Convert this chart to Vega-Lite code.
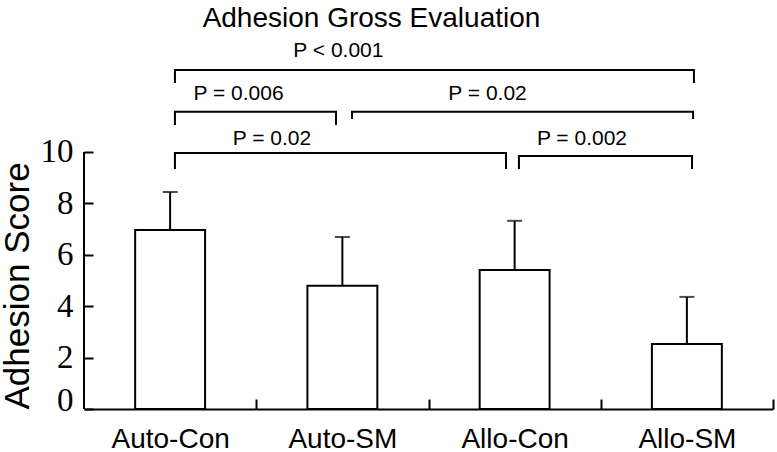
{
  "$schema": "https://vega.github.io/schema/vega-lite/v6.json",
  "width": 689,
  "height": 399,
  "autosize": {"type": "none"},
  "padding": {"left": 84, "top": 10, "right": 4, "bottom": 43},
  "background": "white",
  "title": {
    "text": "Adhesion Gross Evaluation",
    "font": "Liberation Sans",
    "fontSize": 28,
    "fontWeight": "normal",
    "color": "black",
    "anchor": "middle",
    "dx": -57,
    "baseline": "alphabetic",
    "offset": 0,
    "dy": 45
  },
  "config": {"view": {"stroke": null}},
  "datasets": {
    "bars": [
      {"group": "Auto-Con", "mean": 6.96, "upper": 8.44},
      {"group": "Auto-SM", "mean": 4.79, "upper": 6.69},
      {"group": "Allo-Con", "mean": 5.41, "upper": 7.32},
      {"group": "Allo-SM", "mean": 2.53, "upper": 4.36}
    ],
    "brackets": [
      {"id": "b1", "ord": 1, "x": 0.528, "y": 12.68},
      {"id": "b1", "ord": 2, "x": 0.528, "y": 13.19},
      {"id": "b1", "ord": 3, "x": 3.541, "y": 13.19},
      {"id": "b1", "ord": 4, "x": 3.541, "y": 12.68},
      {"id": "b2", "ord": 1, "x": 0.528, "y": 11.05},
      {"id": "b2", "ord": 2, "x": 0.528, "y": 11.56},
      {"id": "b2", "ord": 3, "x": 1.463, "y": 11.56},
      {"id": "b2", "ord": 4, "x": 1.463, "y": 11.05},
      {"id": "b3", "ord": 1, "x": 1.556, "y": 11.28},
      {"id": "b3", "ord": 2, "x": 1.556, "y": 11.56},
      {"id": "b3", "ord": 3, "x": 3.536, "y": 11.56},
      {"id": "b3", "ord": 4, "x": 3.536, "y": 11.28},
      {"id": "b4", "ord": 1, "x": 0.528, "y": 9.34},
      {"id": "b4", "ord": 2, "x": 0.528, "y": 9.96},
      {"id": "b4", "ord": 3, "x": 2.45, "y": 9.96},
      {"id": "b4", "ord": 4, "x": 2.45, "y": 9.34},
      {"id": "b5", "ord": 1, "x": 2.525, "y": 9.34},
      {"id": "b5", "ord": 2, "x": 2.525, "y": 9.84},
      {"id": "b5", "ord": 3, "x": 3.53, "y": 9.84},
      {"id": "b5", "ord": 4, "x": 3.53, "y": 9.34}
    ],
    "pvals": [
      {"label": "P < 0.001", "x": 1.477, "y": 13.7},
      {"label": "P = 0.006", "x": 0.897, "y": 12.0},
      {"label": "P = 0.02", "x": 2.343, "y": 12.0},
      {"label": "P = 0.02", "x": 1.091, "y": 10.27},
      {"label": "P = 0.002", "x": 2.891, "y": 10.27}
    ],
    "yline": [{"x": 0, "y0": 0, "y1": 10}]
  },
  "resolve": {"scale": {"x": "independent"}, "axis": {"x": "independent"}},
  "layer": [
    {
      "data": {"name": "bars"},
      "layer": [
        {
          "mark": {"type": "bar", "fill": "white", "stroke": "black", "strokeWidth": 2},
          "encoding": {
            "x": {
              "field": "group",
              "type": "nominal",
              "sort": null,
              "scale": {"paddingInner": 0.594, "paddingOuter": 0.297},
              "axis": {
                "title": null,
                "domain": true,
                "domainColor": "black",
                "domainWidth": 2,
                "ticks": true,
                "tickSize": -10,
                "tickWidth": 2,
                "tickColor": "black",
                "tickOffset": 86.125,
                "labelOffset": -86.125,
                "labelFont": "Liberation Sans",
                "labelFontSize": 28,
                "labelColor": "black",
                "labelPadding": 26,
                "labelAngle": 0,
                "grid": false
              }
            },
            "y": {
              "field": "mean",
              "type": "quantitative",
              "scale": {"domain": [0, 15.52], "nice": false, "zero": true},
              "axis": {
                "values": [0, 2, 4, 6, 8, 10],
                "domain": false,
                "grid": false,
                "tickSize": -9,
                "tickWidth": 2,
                "tickColor": "black",
                "labelFont": "Liberation Serif",
                "labelFontSize": 33,
                "labelColor": "black",
                "labelPadding": 20,
                "labelOverlap": false,
                "labelFlush": true,
                "labelFlushOffset": 8,
                "title": "Adhesion Score",
                "titleFont": "Liberation Sans",
                "titleFontSize": 35,
                "titleFontWeight": "normal",
                "titleColor": "black",
                "titleAnchor": "start",
                "titlePadding": 5
              }
            }
          }
        },
        {
          "mark": {"type": "rule", "color": "black", "strokeWidth": 2},
          "encoding": {
            "x": {"field": "group", "type": "nominal", "sort": null},
            "y": {"field": "mean", "type": "quantitative"},
            "y2": {"field": "upper"}
          }
        },
        {
          "mark": {"type": "tick", "color": "black", "size": 15, "thickness": 2, "orient": "horizontal"},
          "encoding": {
            "x": {"field": "group", "type": "nominal", "sort": null},
            "y": {"field": "upper", "type": "quantitative"}
          }
        }
      ]
    },
    {
      "layer": [
        {
          "data": {"name": "yline"},
          "mark": {"type": "rule", "color": "black", "strokeWidth": 2},
          "encoding": {
            "x": {"field": "x", "type": "quantitative", "scale": {"domain": [0, 4], "nice": false, "zero": false}, "axis": null},
            "y": {"field": "y0", "type": "quantitative"},
            "y2": {"field": "y1"}
          }
        },
        {
          "data": {"name": "brackets"},
          "mark": {"type": "line", "color": "black", "strokeWidth": 2, "strokeJoin": "miter"},
          "encoding": {
            "x": {"field": "x", "type": "quantitative"},
            "y": {"field": "y", "type": "quantitative"},
            "detail": {"field": "id"},
            "order": {"field": "ord"}
          }
        },
        {
          "data": {"name": "pvals"},
          "mark": {"type": "text", "font": "Liberation Sans", "fontSize": 21, "baseline": "alphabetic", "align": "center", "color": "black"},
          "encoding": {
            "x": {"field": "x", "type": "quantitative"},
            "y": {"field": "y", "type": "quantitative"},
            "text": {"field": "label"}
          }
        }
      ]
    }
  ]
}
